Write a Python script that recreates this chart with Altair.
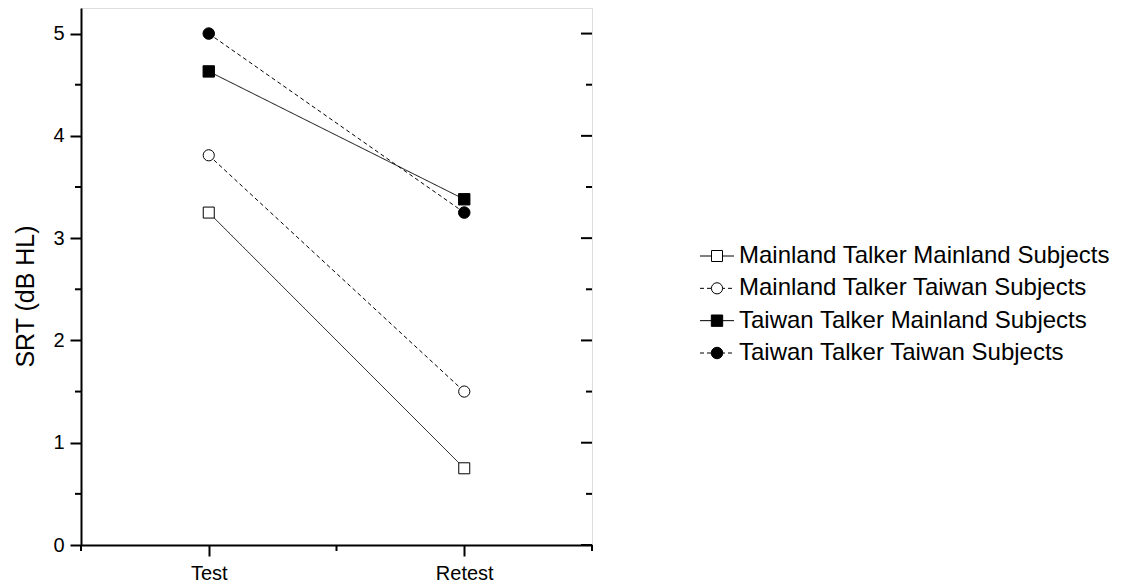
import altair as alt
import pandas as pd

# ---- data ----
categories = ["Test", "Retest"]
series_names = [
    "Mainland Talker Mainland Subjects",
    "Mainland Talker Taiwan Subjects",
    "Taiwan Talker Mainland Subjects",
    "Taiwan Talker Taiwan Subjects",
]
mtms = [3.25, 0.75]
mtts = [3.81, 1.50]
ttms = [4.63, 3.38]
ttts = [5.00, 3.25]

y_major_ticks = [0, 1, 2, 3, 4, 5]
y_minor_ticks = [0.5, 1.5, 2.5, 3.5, 4.5]
x_minor_ticks = [0.5, 1.5, 2.5]

values = [mtms, mtts, ttms, ttts]
rows = []
for name, vals in zip(series_names, values):
    for i, (cat, v) in enumerate(zip(categories, vals)):
        rows.append({"series": name, "session": cat, "x": i + 1, "value": v})
df = pd.DataFrame(rows)

FONT = "Liberation Sans"
W, H = 511, 537

x_scale = alt.Scale(domain=[0.5, 2.5], nice=False, zero=False)
y_scale = alt.Scale(domain=[0, 5.25], nice=False, zero=True)

label_expr = f"datum.value == 1 ? '{categories[0]}' : (datum.value == 2 ? '{categories[1]}' : '')"

X = alt.X(
    "x:Q",
    scale=x_scale,
    axis=alt.Axis(
        values=[1, 2], labelExpr=label_expr, title=None, grid=False,
        tickSize=11, tickWidth=2, domainWidth=2, labelFontSize=20,
        labelPadding=7, labelFont=FONT, labelColor="black",
        tickColor="black", domainColor="black",
    ),
)
Y = alt.Y(
    "value:Q",
    scale=y_scale,
    axis=alt.Axis(
        values=y_major_ticks, format="d", title="SRT (dB HL)", grid=False,
        tickSize=11, tickWidth=2, domainWidth=2, labelFontSize=20,
        labelPadding=6, labelFont=FONT, labelColor="black",
        tickColor="black", domainColor="black",
        titleFont=FONT, titleFontSize=25, titleFontWeight="normal",
        titleColor="black", titleAngle=270, titleX=-47.5, titleY=288,
        titleAlign="center", titleBaseline="alphabetic",
    ),
)

dash_scale = alt.Scale(domain=series_names, range=[[1, 0], [4, 3], [1, 0], [4, 3]])
shape_scale = alt.Scale(domain=series_names, range=["square", "circle", "square", "circle"])
fill_scale = alt.Scale(domain=series_names, range=["white", "white", "black", "black"])
size_scale = alt.Scale(domain=series_names, range=[121, 133, 121, 133])

lines = alt.Chart(df).mark_line(color="black", strokeWidth=1).encode(
    x=X, y=Y, detail="series:N",
    strokeDash=alt.StrokeDash("series:N", scale=dash_scale, legend=None),
)
points = alt.Chart(df).mark_point(filled=True, stroke="black", strokeWidth=1, opacity=1).encode(
    x=X, y=Y,
    shape=alt.Shape("series:N", scale=shape_scale, legend=None),
    fill=alt.Fill("series:N", scale=fill_scale, legend=None),
    size=alt.Size("series:N", scale=size_scale, legend=None),
)

ymaj = pd.DataFrame({"value": y_major_ticks})
ymin = pd.DataFrame({"value": y_minor_ticks})
xmin = pd.DataFrame({"x": x_minor_ticks})

left_minor = alt.Chart(ymin).mark_rule(color="black", strokeWidth=2).encode(
    y=Y, x=alt.value(-6), x2=alt.value(0))
right_major = alt.Chart(ymaj).mark_rule(color="black", strokeWidth=2).encode(
    y=Y, x=alt.value(W - 11), x2=alt.value(W))
right_minor = alt.Chart(ymin).mark_rule(color="black", strokeWidth=2).encode(
    y=Y, x=alt.value(W - 6), x2=alt.value(W))
bottom_minor = alt.Chart(xmin).mark_rule(color="black", strokeWidth=2).encode(
    x=X, y=alt.value(H), y2=alt.value(H + 6))

main = alt.layer(lines, left_minor, right_major, right_minor, bottom_minor, points)

# ---- legend (drawn as marks to the right of the plot) ----
leg_df = pd.DataFrame({"series": series_names})
leg_y = alt.Y("series:N", sort=series_names,
              scale=alt.Scale(type="point", domain=series_names, range=[248, 345], padding=0),
              axis=None)
leg_rule = alt.Chart(leg_df).mark_rule(color="black", strokeWidth=1).encode(
    y=leg_y, x=alt.value(619), x2=alt.value(653),
    strokeDash=alt.StrokeDash("series:N", scale=dash_scale, legend=None),
)
leg_pts = alt.Chart(leg_df).mark_point(filled=True, stroke="black", strokeWidth=1, opacity=1).encode(
    y=leg_y, x=alt.value(636),
    shape=alt.Shape("series:N", scale=shape_scale, legend=None),
    fill=alt.Fill("series:N", scale=fill_scale, legend=None),
    size=alt.Size("series:N", scale=size_scale, legend=None),
)
leg_txt = alt.Chart(leg_df).mark_text(
    align="left", baseline="middle", font=FONT, fontSize=24, color="black"
).encode(y=leg_y, x=alt.value(658), text="series:N")
legend = alt.layer(leg_rule, leg_pts, leg_txt)

chart = alt.layer(main, legend).resolve_scale(y="independent").properties(
    width=W, height=H,
    autosize=alt.AutoSizeParams(type="none"),
    padding={"left": 73, "top": 0, "right": 523, "bottom": 41},
).configure_view(stroke="black", strokeWidth=2).configure(background="white")

chart.save("out.html", embed_options={"renderer": "svg", "actions": False})
